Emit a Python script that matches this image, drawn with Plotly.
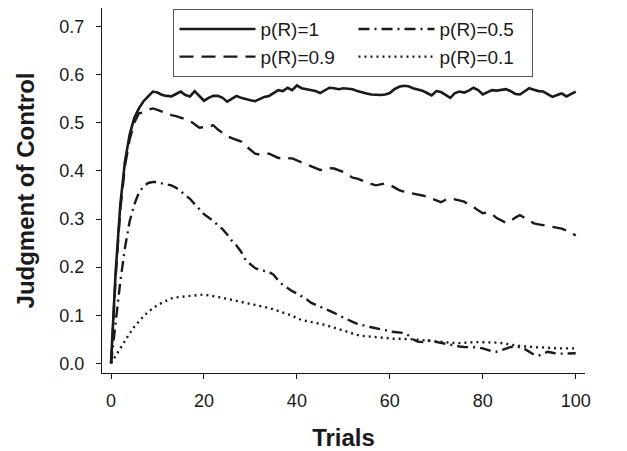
import plotly.graph_objects as go

trials = list(range(0, 101))

p_1 = [0.00, 0.19, 0.33, 0.42, 0.475, 0.51, 0.53, 0.545, 0.555, 0.565,
       0.563, 0.558, 0.556, 0.555, 0.56, 0.565, 0.558, 0.555, 0.566, 0.556,
       0.546, 0.552, 0.556, 0.556, 0.552, 0.544, 0.55, 0.556, 0.552, 0.549,
       0.547, 0.545, 0.55, 0.554, 0.556, 0.562, 0.568, 0.566, 0.573, 0.568,
       0.578, 0.572, 0.57, 0.568, 0.566, 0.562, 0.567, 0.573, 0.572, 0.57,
       0.572, 0.571, 0.57, 0.566, 0.563, 0.561, 0.559, 0.558, 0.558, 0.559,
       0.562, 0.57, 0.575, 0.577, 0.576, 0.572, 0.57, 0.567, 0.562, 0.557,
       0.566, 0.564, 0.558, 0.552, 0.562, 0.565, 0.563, 0.567, 0.573, 0.568,
       0.559, 0.564, 0.568, 0.567, 0.569, 0.57, 0.566, 0.56, 0.559, 0.565,
       0.572, 0.569, 0.566, 0.565, 0.56, 0.554, 0.558, 0.561, 0.555, 0.56,
       0.565]

p_09 = [0.0, 0.18, 0.32, 0.41, 0.465, 0.50, 0.52, 0.522, 0.527, 0.53,
        0.527, 0.523, 0.52, 0.516, 0.514, 0.511, 0.508, 0.504, 0.497, 0.49,
        0.491, 0.493, 0.495, 0.486, 0.478, 0.472, 0.468, 0.465, 0.461, 0.452,
        0.443, 0.436, 0.434, 0.436, 0.436, 0.431, 0.427, 0.427, 0.426, 0.426,
        0.422, 0.418, 0.413, 0.41, 0.406, 0.402, 0.404, 0.406, 0.405, 0.402,
        0.398, 0.392, 0.386, 0.384, 0.38, 0.377, 0.373, 0.37, 0.372, 0.374,
        0.371, 0.365, 0.36, 0.357, 0.355, 0.353, 0.352, 0.349, 0.346, 0.342,
        0.338, 0.335, 0.34, 0.343, 0.341, 0.338, 0.336, 0.33, 0.325, 0.318,
        0.312, 0.314, 0.31, 0.302, 0.297, 0.292, 0.296, 0.303, 0.308, 0.302,
        0.296, 0.291, 0.289, 0.287, 0.285, 0.283, 0.282, 0.28, 0.276, 0.271,
        0.266]

p_05 = [0.0, 0.09, 0.17, 0.24, 0.295, 0.33, 0.355, 0.368, 0.375, 0.377,
        0.377, 0.374, 0.372, 0.37, 0.365, 0.358, 0.349, 0.342, 0.331, 0.32,
        0.31, 0.303, 0.296, 0.287, 0.279, 0.268, 0.255, 0.245, 0.232, 0.214,
        0.205, 0.198, 0.194, 0.192, 0.19, 0.184, 0.172, 0.163, 0.156, 0.15,
        0.145, 0.14, 0.134, 0.126, 0.122, 0.118, 0.114, 0.11, 0.105, 0.1,
        0.095, 0.09, 0.086, 0.082, 0.079, 0.077, 0.075, 0.073, 0.072, 0.069,
        0.066, 0.065, 0.064, 0.063, 0.058, 0.05, 0.045, 0.044, 0.048, 0.046,
        0.044, 0.043, 0.041, 0.039, 0.037, 0.035, 0.034, 0.034, 0.034, 0.033,
        0.031, 0.028, 0.025, 0.024, 0.027, 0.031, 0.034, 0.034, 0.034, 0.03,
        0.024, 0.018, 0.016, 0.02, 0.024, 0.022, 0.02, 0.02, 0.02, 0.02,
        0.021]

p_01 = [0.0, 0.016, 0.032, 0.047, 0.062, 0.076, 0.088, 0.098, 0.107, 0.115,
        0.121, 0.126, 0.131, 0.135, 0.137, 0.138, 0.139, 0.14, 0.141, 0.142,
        0.143, 0.141, 0.14, 0.138, 0.136, 0.134, 0.132, 0.13, 0.128, 0.126,
        0.124, 0.121, 0.119, 0.117, 0.115, 0.112, 0.109, 0.106, 0.103, 0.099,
        0.094, 0.09, 0.088, 0.086, 0.085, 0.083, 0.08, 0.077, 0.074, 0.071,
        0.067, 0.064, 0.061, 0.059, 0.057, 0.056, 0.055, 0.055, 0.054, 0.053,
        0.052, 0.051, 0.051, 0.051, 0.051, 0.05, 0.049, 0.048, 0.048, 0.047,
        0.046, 0.045, 0.044, 0.043, 0.042, 0.042, 0.043, 0.044, 0.044, 0.044,
        0.044, 0.044, 0.044, 0.043, 0.042, 0.04, 0.038, 0.037, 0.036, 0.035,
        0.034, 0.034, 0.033, 0.033, 0.032, 0.031, 0.031, 0.031, 0.031, 0.031,
        0.031]

x_ticks = [0, 20, 40, 60, 80, 100]
y_ticks = [0.0, 0.1, 0.2, 0.3, 0.4, 0.5, 0.6, 0.7]

FONT = "Liberation Sans, Arial, sans-serif"
INK = "#1a1a1a"

fig = go.Figure()
# order chosen so the horizontal legend fills: row1 = p=1, p=0.5 ; row2 = p=0.9, p=0.1
fig.add_trace(go.Scatter(x=trials, y=p_1, mode="lines", name="p(R)=1",
                         line=dict(color=INK, width=2.6, dash="solid")))
fig.add_trace(go.Scatter(x=trials, y=p_05, mode="lines", name="p(R)=0.5",
                         line=dict(color=INK, width=2.4, dash="11px,5px,2px,5px")))
fig.add_trace(go.Scatter(x=trials, y=p_09, mode="lines", name="p(R)=0.9",
                         line=dict(color=INK, width=2.4, dash="14px,8px")))
fig.add_trace(go.Scatter(x=trials, y=p_01, mode="lines", name="p(R)=0.1",
                         line=dict(color=INK, width=2.4, dash="2px,4px")))

# the page body has an 8px default margin, so the figure is sized to fit the window
fig.update_layout(
    width=619, height=443,
    margin=dict(l=94, r=42, t=0, b=78),
    paper_bgcolor="white", plot_bgcolor="white",
    font=dict(family=FONT, color=INK, size=18),
    showlegend=True,
    legend=dict(
        orientation="h",
        x=0.148, y=0.997, xanchor="left", yanchor="top",
        bgcolor="white", bordercolor="#555555", borderwidth=1,
        font=dict(family=FONT, size=19, color=INK),
        entrywidth=88, entrywidthmode="pixels",
        itemwidth=76,
        tracegroupgap=0,
    ),
    xaxis=dict(
        range=[-1.94, 102.0], tickvals=x_ticks, ticktext=[str(v) for v in x_ticks],
        showgrid=False, zeroline=False, automargin=False,
        showline=True, linecolor=INK, linewidth=1,
        ticks="outside", ticklen=5, tickcolor=INK, tickwidth=1,
        ticklabelstandoff=6,
        tickfont=dict(family=FONT, size=18, color=INK),
        title=dict(text="Trials", standoff=21,
                   font=dict(family=FONT, size=24, color=INK, weight="bold")),
    ),
    yaxis=dict(
        range=[-0.0202, 0.7388], tickvals=y_ticks, ticktext=[f"{v:.1f}" for v in y_ticks],
        showgrid=False, zeroline=False, automargin=False,
        showline=True, linecolor=INK, linewidth=1,
        ticks="outside", ticklen=5, tickcolor=INK, tickwidth=1,
        ticklabelstandoff=8,
        tickfont=dict(family=FONT, size=18, color=INK),
        title=dict(text="Judgment of Control", standoff=17,
                   font=dict(family=FONT, size=24, color=INK, weight="bold")),
    ),
)

fig.write_html("out.html")
